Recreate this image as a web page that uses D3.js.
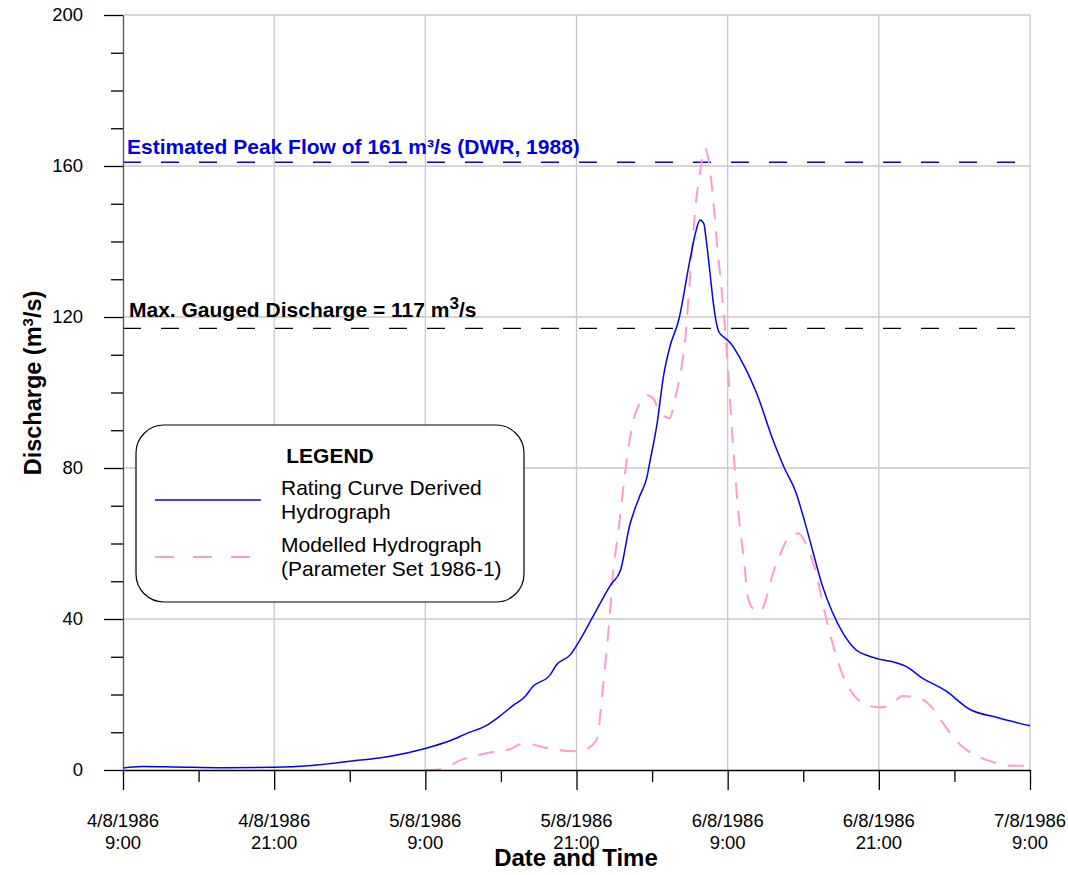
<!DOCTYPE html>
<html lang="en">
	<head>
		<meta charset="utf-8">
		<title>Hydrograph</title>
		<script type="text/javascript" src="https://cdn.jsdelivr.net/npm/d3@7"></script>
		<style type="text/css">
			body { margin: 0; background: white; }
			text { font-family: "Liberation Sans", Arial, sans-serif; }
		</style>
	</head>
	<body>
		<script type="text/javascript">
			// hours after 4/8/1986 9:00
			var blueHours = [0, 1.5, 4, 8, 12, 15, 18, 21, 24, 26, 27.3, 28.9, 30, 31, 31.9, 32.5, 33.9, 34.4, 35.5, 36.3,
				37.3, 38.7, 39.5, 40.2, 41.0, 41.6, 41.8, 42.4, 42.9, 43.4, 44.1, 45.0, 45.5, 45.8, 46.1, 46.3, 46.6, 46.9,
				47.3, 47.8, 48.2, 49.0, 50.3, 51.6, 52.5, 53.4, 54.1, 54.8, 55.5, 56.3, 57.2, 58.2, 59.2, 60.1, 61.3, 62.2,
				63.3, 65.3, 67.2, 69.4, 72];
			var blueFlow = [0.5, 0.9, 0.8, 0.6, 0.7, 1.2, 2.3, 3.5, 5.7, 7.8, 9.7, 11.9, 14.5, 17.2, 19.4, 22, 25.2, 27.8, 30.5, 34.6,
				40.6, 49, 53, 64.5, 72.4, 77.7, 81.2, 91.8, 104.2, 112, 119, 135, 143, 145.7, 144.8, 140.4, 131.6, 122.7,
				116.1, 114.4, 113.2, 109, 99.8, 87.4, 80, 73.7, 66, 57.4, 49, 41.9, 36, 31.8, 30.2, 29.3, 28.5, 27.4,
				24.7, 21, 16.1, 13.9, 11.7];

			var pinkHours = [24, 25.3, 26.8, 28, 29.7, 30.8, 31.8, 33.8, 35.7, 36.7, 37.6, 38.1, 38.6, 38.9, 39.3, 39.7, 40.1, 40.6,
				41.0, 41.6, 42.1, 42.6, 43.4, 43.8, 44.2, 44.6, 45.0, 45.4, 45.8, 46.2, 46.6, 46.9, 47.2, 47.5, 47.8, 48.05,
				48.3, 48.6, 48.8, 49.1, 49.4, 49.6, 50.0, 50.6, 51.1, 51.6, 52.2, 52.7, 53.6, 54.3, 55.1, 55.6, 56.4, 57.3,
				58.0, 59.2, 60.1, 60.9, 61.9, 63.0, 64.3, 65.1, 66.2, 67.1, 68.6, 69.6, 70.7, 72];
			var pinkFlow = [0, 0.2, 2.6, 3.8, 5, 5.6, 7.1, 5.7, 5, 5.5, 8, 22, 39.3, 52, 62.7, 74.2, 84.8, 93.6,
				97.1, 99.3, 98.4, 94.9, 93.2, 98, 104.2, 113, 129.8, 147.5, 158.1, 164.7, 158.9, 149.2, 137.7, 128, 116.6, 105.1,
				91.8, 78.6, 69.8, 60.9, 52.1, 45.9, 42.8, 41.9, 45.9, 52.1, 57.4, 60.9, 62.7, 59.2, 51.2, 43.3, 32.7, 23.8,
				19.9, 17, 16.6, 17.2, 19.6, 19.3, 16.3, 12.4, 7.5, 5, 2.6, 1.6, 1.1, 1.1];

			var xTickHours = [0, 12, 24, 36, 48, 60, 72];
			var yTicks = [0, 40, 80, 120, 160, 200];
			var peakFlow = 161;
			var maxGauged = 117;

			var start = new Date(1986, 7, 4, 9, 0);
			function toDate(h) { return new Date(start.getTime() + h * 3600000); }

			var w = 1068;
			var h = 875;
			var plotLeft = 123, plotRight = 1030, plotTop = 15, plotBottom = 770;

			var xScale = d3.scaleTime()
							.domain([toDate(0), toDate(72)])
							.range([plotLeft, plotRight]);
			var yScale = d3.scaleLinear()
							.domain([0, 200])
							.range([plotBottom, plotTop]);

			var svg = d3.select("body")
						.append("svg")
						.attr("width", w)
						.attr("height", h);

			//Grid
			svg.selectAll("line.vgrid")
				.data(xTickHours.slice(1))
				.enter()
				.append("line")
				.attr("class", "vgrid")
				.attr("x1", function(d) { return xScale(toDate(d)); })
				.attr("x2", function(d) { return xScale(toDate(d)); })
				.attr("y1", plotTop)
				.attr("y2", plotBottom)
				.attr("stroke", "#c8c8c8")
				.attr("stroke-width", 1.3);
			svg.selectAll("line.hgrid")
				.data(yTicks.slice(1))
				.enter()
				.append("line")
				.attr("class", "hgrid")
				.attr("x1", plotLeft)
				.attr("x2", plotRight)
				.attr("y1", function(d) { return yScale(d); })
				.attr("y2", function(d) { return yScale(d); })
				.attr("stroke", "#c8c8c8")
				.attr("stroke-width", 1.3);

			//Reference lines
			svg.append("line")
				.attr("x1", plotLeft).attr("x2", plotRight)
				.attr("y1", yScale(peakFlow)).attr("y2", yScale(peakFlow))
				.attr("stroke", "#0000e6")
				.attr("stroke-width", 1.3)
				.attr("stroke-dasharray", "18,20");
			svg.append("line")
				.attr("x1", plotLeft).attr("x2", plotRight)
				.attr("y1", yScale(maxGauged)).attr("y2", yScale(maxGauged))
				.attr("stroke", "#000")
				.attr("stroke-width", 1.3)
				.attr("stroke-dasharray", "18,20");

			svg.append("text")
				.attr("x", 127)
				.attr("y", 154)
				.attr("font-size", "21px")
				.attr("font-weight", "bold")
				.attr("fill", "#0000e6")
				.text("Estimated Peak Flow of 161 m³/s (DWR, 1988)");

			var gaugeText = svg.append("text")
				.attr("x", 129)
				.attr("y", 317)
				.attr("font-size", "21px")
				.attr("font-weight", "bold")
				.attr("fill", "#000");
			gaugeText.append("tspan").text("Max. Gauged Discharge = 117 m");
			gaugeText.append("tspan").attr("dy", -8).attr("font-size", "17px").text("3");
			gaugeText.append("tspan").attr("dy", 8).text("/s");

			//Lines
			var line = d3.line()
				.x(function(d) { return xScale(toDate(d[0])); })
				.y(function(d) { return yScale(d[1]); })
				.curve(d3.curveMonotoneX);

			svg.append("path")
				.datum(d3.zip(pinkHours, pinkFlow))
				.attr("d", line)
				.attr("fill", "none")
				.attr("stroke", "#ff9acd")
				.attr("stroke-width", 2)
				.attr("stroke-dasharray", "16,12");

			svg.append("path")
				.datum(d3.zip(blueHours, blueFlow))
				.attr("d", line)
				.attr("fill", "none")
				.attr("stroke", "#0000ff")
				.attr("stroke-width", 1.5);

			//Axes
			var fmtDate = d3.timeFormat("%-d/%-m/%Y");
			var fmtTime = d3.timeFormat("%-H:%M");

			var xAxis = svg.append("g")
				.attr("transform", "translate(0," + plotBottom + ")")
				.call(d3.axisBottom(xScale)
					.tickValues(d3.range(0, 73, 6).map(toDate))
					.tickSize(0)
					.tickFormat(""));
			xAxis.select(".domain").attr("stroke", "#000").attr("stroke-width", 1.3);
			xAxis.selectAll(".tick line")
				.attr("y2", function(d, i) { return i % 2 === 0 ? 20 : 12; })
				.attr("stroke", "#000")
				.attr("stroke-width", 1.3);

			var xLabels = svg.selectAll("text.xlab")
				.data(xTickHours)
				.enter()
				.append("text")
				.attr("class", "xlab")
				.attr("text-anchor", "middle")
				.attr("font-size", "18.5px")
				.attr("fill", "#000");
			xLabels.append("tspan")
				.attr("x", function(d) { return xScale(toDate(d)); })
				.attr("y", 827)
				.text(function(d) { return fmtDate(toDate(d)); });
			xLabels.append("tspan")
				.attr("x", function(d) { return xScale(toDate(d)); })
				.attr("y", 849)
				.text(function(d) { return fmtTime(toDate(d)); });

			var yAxis = svg.append("g")
				.attr("transform", "translate(" + plotLeft + ",0)")
				.call(d3.axisLeft(yScale)
					.tickValues(d3.range(0, 201, 10))
					.tickSize(0)
					.tickFormat(""));
			yAxis.select(".domain").attr("stroke", "#555").attr("stroke-width", 1.3);
			yAxis.selectAll(".tick line")
				.attr("x2", function(d) { return d % 40 === 0 ? -19 : -12; })
				.attr("stroke", "#000")
				.attr("stroke-width", 1.3);

			svg.selectAll("text.ylab")
				.data(yTicks)
				.enter()
				.append("text")
				.attr("class", "ylab")
				.attr("x", 83)
				.attr("y", function(d) { return yScale(d) + 6; })
				.attr("text-anchor", "end")
				.attr("font-size", "18.5px")
				.attr("fill", "#000")
				.text(function(d) { return d; });

			//Axis titles
			svg.append("text")
				.attr("x", 576)
				.attr("y", 866)
				.attr("text-anchor", "middle")
				.attr("font-size", "24px")
				.attr("font-weight", "bold")
				.text("Date and Time");

			var yTitle = svg.append("text")
				.attr("transform", "translate(41,383) rotate(-90)")
				.attr("text-anchor", "middle")
				.attr("font-size", "23.5px")
				.attr("font-weight", "bold");
			yTitle.append("tspan").text("Discharge (m");
			yTitle.append("tspan").attr("dy", -8).attr("font-size", "15px").text("3");
			yTitle.append("tspan").attr("dy", 8).text("/s)");

			//Legend
			var legend = svg.append("g");
			legend.append("rect")
				.attr("x", 136).attr("y", 425)
				.attr("width", 388).attr("height", 177)
				.attr("rx", 28).attr("ry", 28)
				.attr("fill", "white")
				.attr("stroke", "#000")
				.attr("stroke-width", 1.2);
			legend.append("text")
				.attr("x", 330).attr("y", 463)
				.attr("text-anchor", "middle")
				.attr("font-size", "21px")
				.attr("font-weight", "bold")
				.text("LEGEND");
			legend.append("line")
				.attr("x1", 155).attr("x2", 261)
				.attr("y1", 500).attr("y2", 500)
				.attr("stroke", "#0000ff")
				.attr("stroke-width", 1.5);
			legend.append("line")
				.attr("x1", 155).attr("x2", 261)
				.attr("y1", 557).attr("y2", 557)
				.attr("stroke", "#ff9acd")
				.attr("stroke-width", 2)
				.attr("stroke-dasharray", "19,19");
			var legendLabels = [["Rating Curve Derived", "Hydrograph"], ["Modelled Hydrograph", "(Parameter Set 1986-1)"]];
			legend.selectAll("text.item")
				.data(legendLabels)
				.enter()
				.append("text")
				.attr("class", "item")
				.attr("font-size", "21px")
				.attr("fill", "#000")
				.each(function(d, i) {
					var t = d3.select(this);
					d.forEach(function(s, j) {
						t.append("tspan")
							.attr("x", 281)
							.attr("y", 495 + i * 57 + j * 24)
							.text(s);
					});
				});
		</script>
	</body>
</html>
